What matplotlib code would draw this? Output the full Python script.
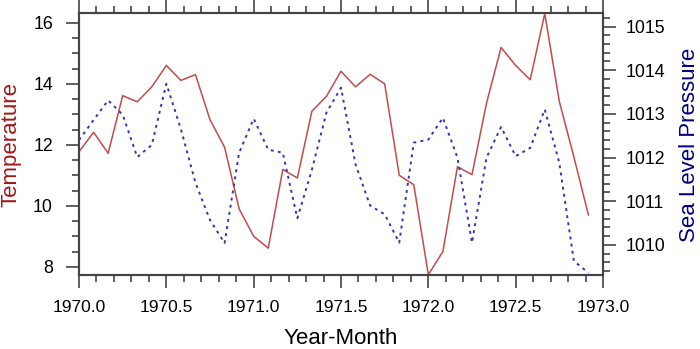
import numpy as np
import matplotlib
matplotlib.use('Agg')
import matplotlib.pyplot as plt
from matplotlib.ticker import MultipleLocator, FormatStrFormatter

# monthly values, Jan 1970 .. Dec 1972
temperature = [11.77, 12.41, 11.72, 13.61, 13.41, 13.90, 14.60, 14.11, 14.30, 12.82, 11.92, 9.90,
               9.00, 8.61, 11.19, 10.91, 13.10, 13.59, 14.41, 13.90, 14.31, 14.00, 11.00, 10.69,
               7.74, 8.50, 11.28, 11.02, 13.37, 15.19, 14.60, 14.13, 16.30, 13.42, 11.60, 9.70]
pressure = [1012.40, 1012.86, 1013.31, 1012.98, 1012.01, 1012.29, 1013.69, 1012.65, 1011.42, 1010.57, 1010.04, 1012.11,
            1012.89, 1012.18, 1012.11, 1010.61, 1011.72, 1013.03, 1013.60, 1011.84, 1010.90, 1010.70, 1010.05, 1012.34,
            1012.41, 1012.91, 1012.00, 1010.05, 1012.00, 1012.70, 1012.03, 1012.22, 1013.10, 1011.88, 1009.63, 1009.36]
years = 1970 + np.arange(len(temperature)) / 12.0

plt.rcParams['font.family'] = ['Liberation Sans', 'DejaVu Sans']
red_line = '#c24b4b'
red_label = '#a01818'
blue_line = '#3535b5'
blue_label = '#000080'
spine_col = '#444444'

fig = plt.figure(figsize=(7.0, 3.49), dpi=100)
ax = fig.add_axes([0.1129, 0.212, 0.7485, 0.7508])
ax2 = ax.twinx()

ax.plot(years, temperature, color=red_line, lw=1.1)
ax2.plot(years, pressure, color=blue_line, lw=1.4, linestyle=(0, (1.5, 2.2)))

ax.set_xlim(1970.0, 1973.0)
ax.set_ylim(7.73, 16.32)
ax2.set_ylim(1009.31, 1015.31)

ax.xaxis.set_major_locator(MultipleLocator(0.5))
ax.xaxis.set_minor_locator(MultipleLocator(0.1))
ax.yaxis.set_major_locator(MultipleLocator(2))
ax.yaxis.set_minor_locator(MultipleLocator(0.5))
ax2.yaxis.set_major_locator(MultipleLocator(1))
ax2.yaxis.set_minor_locator(MultipleLocator(0.2))
ax.xaxis.set_major_formatter(FormatStrFormatter('%.1f'))

for a in (ax, ax2):
    for s in a.spines.values():
        s.set_color(spine_col)
        s.set_linewidth(1.5)

ax.tick_params(axis='x', which='both', direction='out', top=True, bottom=True,
               labeltop=False, color=spine_col, width=1.2, labelsize=12.5, pad=8.6)
ax.tick_params(axis='y', which='both', direction='out', left=True, right=False,
               color=spine_col, width=1.2, labelsize=12.8, pad=9.4)
ax2.tick_params(axis='y', which='both', direction='out', right=True,
                color=spine_col, width=1.2, labelsize=12.8, pad=7.2)
for a, axis in ((ax, 'x'), (ax, 'y'), (ax2, 'y')):
    a.tick_params(axis=axis, which='major', length=9.4)
    a.tick_params(axis=axis, which='minor', length=5)

fig.text(0.4864, 0.0, 'Year-Month', fontsize=16, ha='center', va='bottom')
fig.text(0.0, 1 - 144 / 349, 'Temperature', fontsize=16, color=red_label,
         rotation=90, ha='left', va='center')
fig.text(1.0, 1 - 144.5 / 349, 'Sea Level Pressure', fontsize=16, color=blue_label,
         rotation=90, ha='right', va='center')

fig.savefig('out.png', dpi=100)
